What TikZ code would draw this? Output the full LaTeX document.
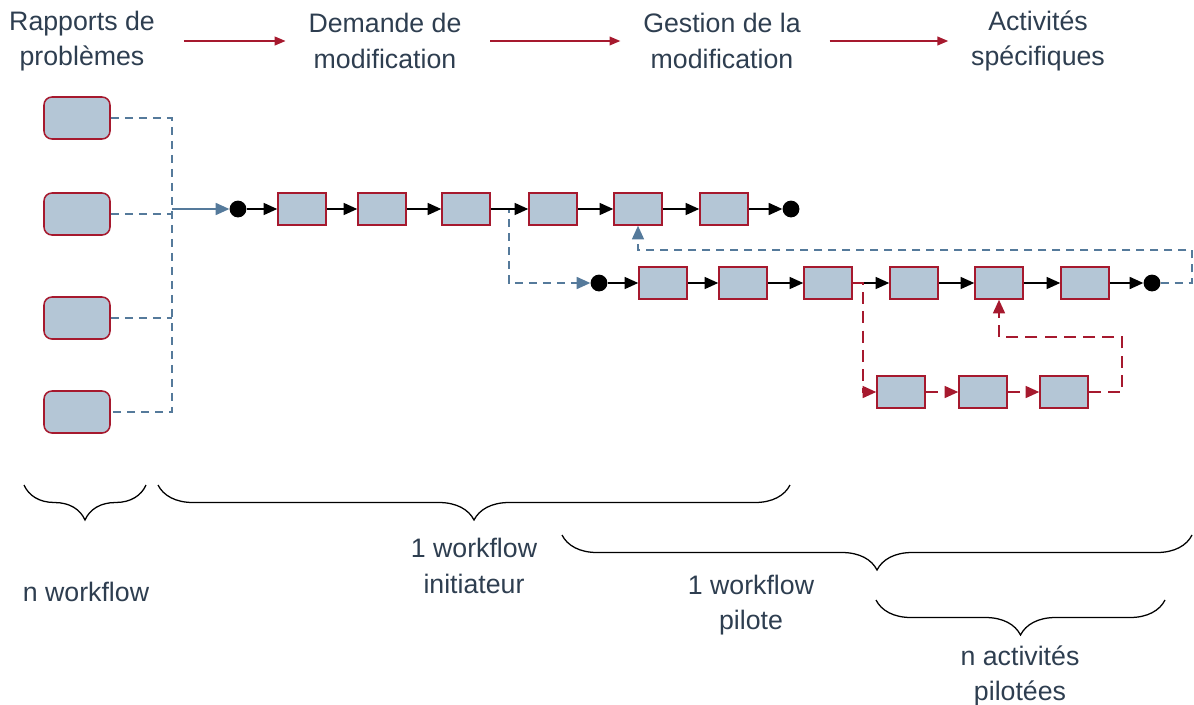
\documentclass[tikz,border=0pt]{standalone}
\usepackage{fontspec}
\setmainfont{Liberation Sans}
\usetikzlibrary{positioning, arrows.meta, decorations.pathreplacing}
\definecolor{boxred}{HTML}{A6192E}
\definecolor{boxfill}{HTML}{B4C6D6}
\definecolor{linkblue}{HTML}{557A9B}
\definecolor{labeltext}{HTML}{2E3E50}

\begin{document}
\begin{tikzpicture}[x=0.025cm, y=-0.025cm,
        report/.style={draw=boxred, fill=boxfill, line width=1.1pt, rounded corners=0.2cm,
            minimum width=1.65cm, minimum height=1.05cm},
        task/.style={draw=boxred, fill=boxfill, line width=1.1pt,
            minimum width=1.2cm, minimum height=0.8cm},
        endpoint/.style={circle, fill=black, inner sep=0pt, minimum size=0.42cm},
        header/.style={text=labeltext, font=\fontsize{19}{25}\selectfont, align=center},
        flow/.style={-{Triangle[length=0.34cm, width=0.3cm]}, line width=1.1pt},
        headflow/.style={draw=boxred, -{Triangle[length=0.27cm, width=0.22cm]}, line width=0.9pt,
            shorten <=0.6cm, shorten >=0.45cm},
        link/.style={draw=linkblue, line width=1.1pt, dash pattern=on 0.2cm off 0.15cm},
        linkflow/.style={link, -{Triangle[length=0.34cm, width=0.3cm]}},
        altflow/.style={draw=boxred, line width=1.1pt, dash pattern=on 0.3cm off 0.18cm,
            -{Triangle[length=0.34cm, width=0.3cm]}},
        curly/.style={decorate, decoration={brace, mirror, amplitude=0.875cm}, line width=0.9pt}]
    \useasboundingbox (0,0) rectangle (1194,704);

    % en-tetes
    \node[header] (hd1) at (82,41)   {Rapports de\\problèmes};
    \node[header] (hd2) at (385,41)  {Demande de\\modification};
    \node[header] (hd3) at (722,41)  {Gestion de la\\modification};
    \node[header] (hd4) at (1038,41) {Activités\\spécifiques};
    \draw[headflow] (hd1) -- (hd2);
    \draw[headflow] (hd2) -- (hd3);
    \draw[headflow] (hd3) -- (hd4);

    % rapports de problemes
    \node[report] (rp1) at (77,118) {};
    \node[report] (rp2) at (77,214) {};
    \node[report] (rp3) at (77,318) {};
    \node[report] (rp4) at (77,412) {};
    \coordinate (bustop) at (172,118);
    \coordinate (busbot) at (172,412);
    \coordinate (join) at (172,209);

    % workflow initiateur
    \node[endpoint] (d0) at (238,209) {};
    \node[task] (a1) at (302,209) {};
    \node[task] (a2) at (382,209) {};
    \node[task] (a3) at (466,209) {};
    \node[task] (a4) at (553,209) {};
    \node[task] (a5) at (638,209) {};
    \node[task] (a6) at (724,209) {};
    \node[endpoint] (f1) at (791,209) {};

    % workflow pilote
    \node[endpoint] (p0) at (599,283) {};
    \node[task] (b1) at (663,283) {};
    \node[task] (b2) at (743,283) {};
    \node[task] (b3) at (828,283) {};
    \node[task] (b4) at (914,283) {};
    \node[task] (b5) at (999,283) {};
    \node[task] (b6) at (1085,283) {};
    \node[endpoint] (p7) at (1152,283) {};

    % activites pilotees
    \node[task] (c1) at (901,392) {};
    \node[task] (c2) at (983,392) {};
    \node[task] (c3) at (1064,392) {};
    \coordinate (edge) at (1192,250);
    \coordinate (altret) at (1122,337);

    \draw[link] (rp1.east) -- (bustop) -- (busbot) -- (rp4.east);
    \draw[link] (rp2.east) -- (rp2.east -| bustop);
    \draw[link] (rp3.east) -- (rp3.east -| bustop);
    \draw[flow, draw=linkblue] (join) -- (d0);

    \draw[linkflow] (a3.east) -- ++(18,0) |- (p0);
    \draw[linkflow] (p7.east) -| (edge) -| (a5.south);

    \draw[flow] (d0) -- (a1);
    \draw[flow] (a1) -- (a2);
    \draw[flow] (a2) -- (a3);
    \draw[flow] (a3) -- (a4);
    \draw[flow] (a4) -- (a5);
    \draw[flow] (a5) -- (a6);
    \draw[flow] (a6) -- (f1);

    \draw[flow] (p0) -- (b1);
    \draw[flow] (b1) -- (b2);
    \draw[flow] (b2) -- (b3);
    \draw[flow] (b3) -- (b4);
    \draw[flow] (b4) -- (b5);
    \draw[flow] (b5) -- (b6);
    \draw[flow] (b6) -- (p7);

    \draw[altflow] (b3.east) -- ++(10,0) |- (c1.west);
    \draw[altflow] (c1) -- (c2);
    \draw[altflow] (c2) -- (c3);
    \draw[altflow] (c3.east) -| (altret) -| (b5.south);

    % accolades
    \draw[curly] (24,485) -- (146,485);
    \draw[curly] (158,485) -- (790,485);
    \draw[curly] (562,535) -- (1192,535);
    \draw[curly] (876,600) -- (1165,600);

    \node[header] (lb1) at (86,592)   {n workflow};
    \node[header] (lb2) at (474,566)  {1 workflow\\initiateur};
    \node[header] (lb3) at (751,605)  {1 workflow\\pilote};
    \node[header] (lb4) at (1020,676) {n activités\\pilotées};
\end{tikzpicture}
\end{document}
